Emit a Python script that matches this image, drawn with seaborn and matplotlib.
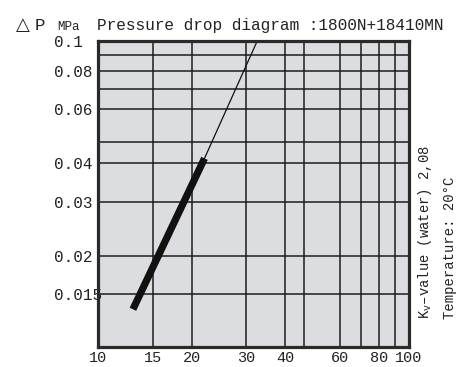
import matplotlib
matplotlib.use("Agg")
import matplotlib.pyplot as plt
import seaborn as sns

# values
thick_x = [12.95, 22.0]
thick_y = [0.0134, 0.0415]
thin_x = [22.0, 32.5]
thin_y = [0.0415, 0.1]

x_ticks = [10, 15, 20, 30, 40, 60, 80, 100]
x_tick_labels = ["10", "15", "20", "30", "40", "60", "80", "100"]
x_extra_grid = [46, 70, 90]
y_ticks = [0.1, 0.08, 0.06, 0.04, 0.03, 0.02, 0.015]
y_tick_labels = ["0.1", "0.08", "0.06", "0.04", "0.03", "0.02", "0.015"]
y_extra_grid = [0.09, 0.07, 0.047]

title_text = "Pressure drop diagram :1800N+18410MN"
side_line1 = "K$_\\mathrm{v}$\u2013value (water) 2,08"
side_line2 = "Temperature: 20°C"

sns.set_theme(style="ticks")
plt.rcParams["font.family"] = ["Liberation Mono", "DejaVu Sans"]
plt.rcParams["mathtext.fontset"] = "custom"
plt.rcParams["mathtext.rm"] = "Liberation Mono"

fig = plt.figure(figsize=(4.72, 3.67), dpi=100)
ax = fig.add_axes([98 / 472, 1 - 347 / 367, (409 - 98) / 472, (347 - 41) / 367])
ax.set_facecolor("#dcdde0")

ax.set_xscale("log")
ax.set_yscale("log")
ax.set_xlim(10, 100)
ax.set_ylim(0.0101, 0.1)

ax.set_xticks(x_ticks, x_tick_labels)
ax.set_xticks(x_extra_grid, minor=True)
ax.set_xticklabels([], minor=True)
ax.set_yticks(y_ticks, y_tick_labels)
ax.set_yticks(y_extra_grid, minor=True)
ax.set_yticklabels([], minor=True)

ax.grid(which="both", color="#1c1c1c", linewidth=1.1)
ax.set_axisbelow(True)
ax.tick_params(which="both", length=0)
ax.tick_params(axis="x", labelsize=11, pad=3, colors="#222222")
ax.tick_params(axis="y", labelsize=11.5, pad=32, colors="#222222")
for lab in ax.get_yticklabels():
    lab.set_ha("left")

for side in ax.spines.values():
    side.set_linewidth(2.3)
    side.set_color("#2a2a2a")
    side.set_zorder(5)

sns.lineplot(x=thin_x, y=thin_y, ax=ax, color="#111111", linewidth=0.9, zorder=3)
sns.lineplot(x=thick_x, y=thick_y, ax=ax, color="#111111", linewidth=5.2,
             solid_capstyle="butt", zorder=4)
ax.set_xlabel("")
ax.set_ylabel("")

# header
fig.text(16 / 472, 1 - 30 / 367, "\u25b3", fontsize=13, color="#222222",
         family=["DejaVu Sans"], va="baseline")
fig.text(35 / 472, 1 - 30 / 367, "P", fontsize=12.5, color="#222222", va="baseline")
fig.text(57 / 472, 1 - 30 / 367, "MPa", fontsize=9, color="#222222", va="baseline")
fig.text(97 / 472, 1 - 30 / 367, title_text, fontsize=11.6, color="#222222", va="baseline")

# side note
fig.text(425 / 472, 1 - 319 / 367, side_line1, rotation=90, fontsize=10,
         color="#222222", ha="center", va="bottom")
fig.text(450 / 472, 1 - 319 / 367, side_line2, rotation=90, fontsize=10,
         color="#222222", ha="center", va="bottom")

fig.savefig("out.png", dpi=100)
